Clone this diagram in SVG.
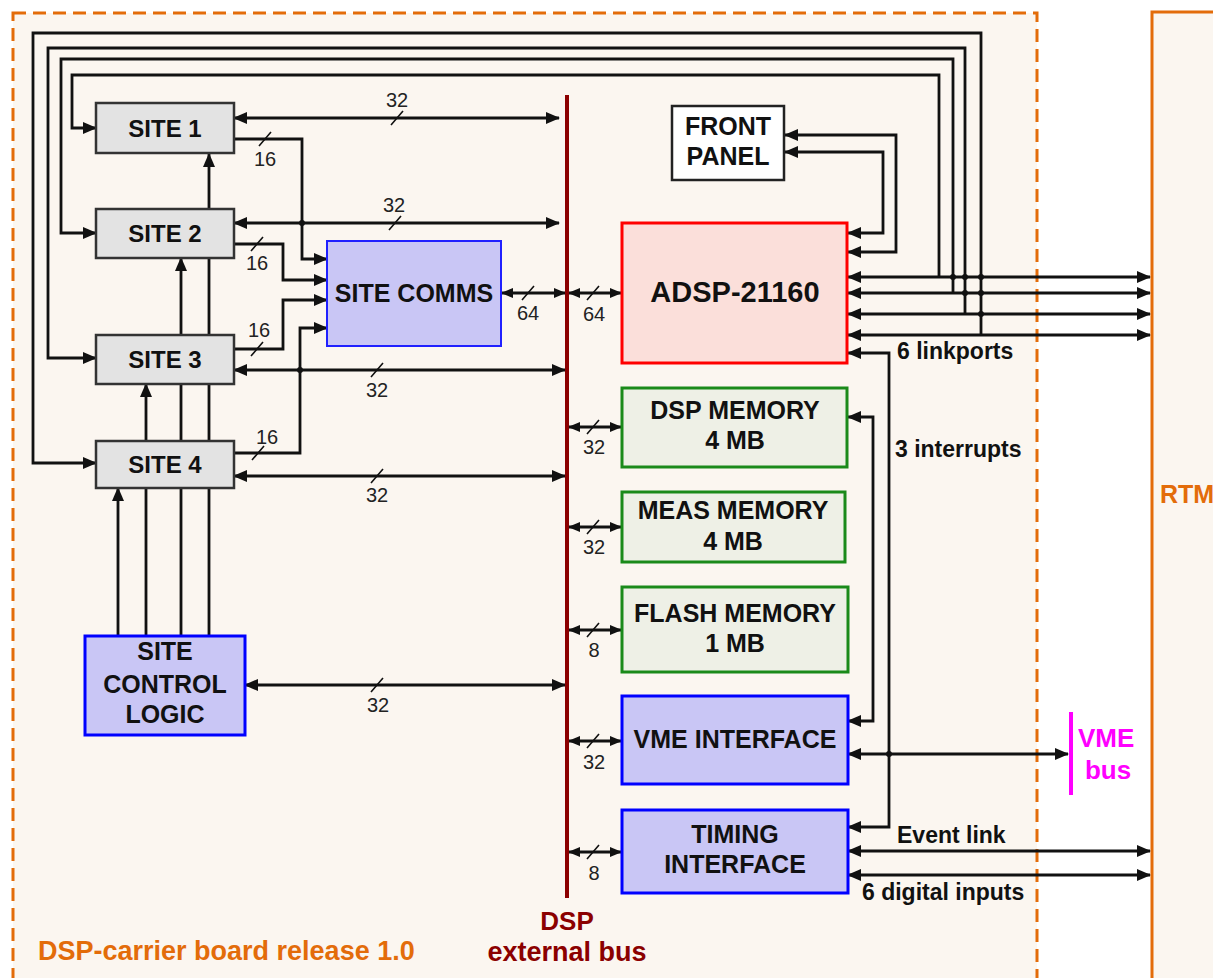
<svg xmlns="http://www.w3.org/2000/svg" width="1213" height="978" viewBox="0 0 1213 978">
<defs>
<marker id="a" viewBox="0 0 14 12" refX="13" refY="6" markerWidth="14" markerHeight="12" markerUnits="userSpaceOnUse" orient="auto-start-reverse"><path d="M0,0 L14,6 L0,12 z" fill="#111"/></marker>
<marker id="s" viewBox="0 0 12 10" refX="11" refY="5" markerWidth="12" markerHeight="10" markerUnits="userSpaceOnUse" orient="auto-start-reverse"><path d="M0,0 L12,5 L0,10 z" fill="#111"/></marker>
<style>
.w{fill:none;stroke:#111;stroke-width:2.8}
.ab{marker-start:url(#a);marker-end:url(#a)}
.ae{marker-end:url(#a)}
.sb{marker-start:url(#s);marker-end:url(#s)}
.sl{fill:none;stroke:#111;stroke-width:1.6}
.dot{fill:#111}
.site{fill:#E3E3E3;stroke:#333;stroke-width:2.5}
.blue{fill:#C9C6F5;stroke:#0000FF;stroke-width:3}
.mem{fill:#EEF0E6;stroke:#1A8A1A;stroke-width:3}
.t{font-family:"Liberation Sans",Arial,sans-serif;font-weight:bold;fill:#111;text-anchor:middle}
.n{font-family:"Liberation Sans",Arial,sans-serif;font-size:20px;fill:#222;text-anchor:middle}
.lb{font-family:"Liberation Sans",Arial,sans-serif;font-weight:bold;font-size:23px;fill:#111}
</style>
</defs>
<rect x="0" y="0" width="1213" height="978" fill="#FFFFFF"/>
<g id="board">
<rect x="13" y="13" width="1024" height="1000" fill="#FBF6F0" stroke="#E36C0A" stroke-width="3" stroke-dasharray="13 7"/>
</g>
<g id="rtm">
<rect x="1152" y="12" width="80" height="1000" fill="#FBF6F0" stroke="#E36C0A" stroke-width="3"/>
<text x="1160" y="503" font-family="Liberation Sans, Arial, sans-serif" font-weight="bold" font-size="25" fill="#E36C0A">RTM</text>
</g>
<g id="connectors">
<path class="w ae" d="M939 277 V75 H72 V128 H96"/>
<path class="w ae" d="M953 293 V59 H61 V233 H96"/>
<path class="w ae" d="M965 314 V48 H48 V358 H96"/>
<path class="w ae" d="M981 335 V33 H33 V463 H96"/>
<path class="w ab" d="M848 277 H1150"/>
<path class="w ab" d="M848 293 H1150"/>
<path class="w ab" d="M848 314 H1150"/>
<path class="w ab" d="M848 335 H1150"/>
<circle class="dot" cx="953" cy="277" r="3"/>
<circle class="dot" cx="965" cy="277" r="3"/>
<circle class="dot" cx="965" cy="293" r="3"/>
<circle class="dot" cx="981" cy="277" r="3"/>
<circle class="dot" cx="981" cy="293" r="3"/>
<circle class="dot" cx="981" cy="314" r="3"/>
<path class="w ab" d="M785 135 H896 V252 H848"/>
<path class="w ab" d="M785 152 H883 V233 H848"/>
<path class="w ab" d="M848 721 H873 V417 H848"/>
<path class="w ab" d="M848 827 H889 V353 H848"/>
<path class="w ab" d="M848 754 H1068"/>
<circle class="dot" cx="889" cy="754" r="3"/>
<path class="w ab" d="M848 851 H1150"/>
<path class="w ab" d="M848 875 H1150"/>
<path class="w ae" d="M209 636 V154"/>
<path class="w ae" d="M181 636 V258"/>
<path class="w ae" d="M146 636 V384"/>
<path class="w ae" d="M118 636 V488"/>
<path class="w ab" d="M234 118 H559"/>
<path class="w ab" d="M234 223 H559"/>
<path class="w ab" d="M234 370 H565"/>
<path class="w ab" d="M234 476 H565"/>
<path class="w ab" d="M245 685 H565"/>
<path class="w ae" d="M234 139 H302 V259 H327"/>
<path class="w ae" d="M234 244 H283 V280 H327"/>
<path class="w ae" d="M234 349 H283 V300 H327"/>
<path class="w ae" d="M234 453 H300 V328 H327"/>
<circle class="dot" cx="302" cy="223" r="3"/>
<circle class="dot" cx="300" cy="370" r="3"/>
<path class="w sb" d="M502 293 H565"/>
<path class="w sb" d="M569 293 H621"/>
<path class="w sb" d="M569 427 H621"/>
<path class="w sb" d="M569 527 H621"/>
<path class="w sb" d="M569 630 H621"/>
<path class="w sb" d="M569 741 H621"/>
<path class="w sb" d="M569 852 H621"/>
<path class="sl" d="M391 125 L403 111 M389 230 L401 216 M259 146 L271 132 M251 251 L263 237 M251 356 L263 342 M371 377 L383 363 M252 460 L264 446 M371 483 L383 469 M371 692 L383 678 M522 300 L534 286 M587 300 L599 286 M587 434 L599 420 M587 534 L599 520 M587 637 L599 623 M587 748 L599 734 M587 859 L599 845"/>
<line x1="567" y1="95" x2="567" y2="898" stroke="#8B0000" stroke-width="4"/>
<line x1="1071" y1="712" x2="1071" y2="795" stroke="#FF00FF" stroke-width="4"/>
</g>
<g id="labels">
<text class="n" x="397" y="107">32</text>
<text class="n" x="394" y="212">32</text>
<text class="n" x="265" y="166">16</text>
<text class="n" x="257" y="270">16</text>
<text class="n" x="259" y="337">16</text>
<text class="n" x="377" y="397">32</text>
<text class="n" x="267" y="444">16</text>
<text class="n" x="377" y="502">32</text>
<text class="n" x="378" y="712">32</text>
<text class="n" x="528" y="320">64</text>
<text class="n" x="594" y="321">64</text>
<text class="n" x="594" y="454">32</text>
<text class="n" x="594" y="554">32</text>
<text class="n" x="594" y="657">8</text>
<text class="n" x="594" y="769">32</text>
<text class="n" x="594" y="880">8</text>
<text class="lb" x="897" y="359">6 linkports</text>
<text class="lb" x="895" y="457">3 interrupts</text>
<text class="lb" x="897" y="843">Event link</text>
<text class="lb" x="862" y="900">6 digital inputs</text>
<text x="1078" y="747" font-family="Liberation Sans, Arial, sans-serif" font-weight="bold" font-size="26" fill="#FF00FF">VME</text>
<text x="1108" y="779" font-family="Liberation Sans, Arial, sans-serif" font-weight="bold" font-size="26" fill="#FF00FF" text-anchor="middle">bus</text>
<text x="567" y="930" font-family="Liberation Sans, Arial, sans-serif" font-weight="bold" font-size="26" fill="#8B0000" text-anchor="middle">DSP</text>
<text x="567" y="961" font-family="Liberation Sans, Arial, sans-serif" font-weight="bold" font-size="27" fill="#8B0000" text-anchor="middle">external bus</text>
<text x="38" y="960" font-family="Liberation Sans, Arial, sans-serif" font-weight="bold" font-size="27" fill="#E36C0A">DSP-carrier board release 1.0</text>
</g>
<g id="site1"><rect class="site" x="96" y="103" width="138" height="50"/><text class="t" x="165" y="137" font-size="24">SITE 1</text></g>
<g id="site2"><rect class="site" x="96" y="209" width="138" height="49"/><text class="t" x="165" y="242" font-size="24">SITE 2</text></g>
<g id="site3"><rect class="site" x="96" y="335" width="138" height="49"/><text class="t" x="165" y="368" font-size="24">SITE 3</text></g>
<g id="site4"><rect class="site" x="96" y="441" width="138" height="47"/><text class="t" x="165" y="473" font-size="24">SITE 4</text></g>
<g id="sitecomms"><rect x="327" y="241" width="174" height="105" fill="#C9C6F5" stroke="#2020FF" stroke-width="2"/><text class="t" x="414" y="302" font-size="25">SITE COMMS</text></g>
<g id="scl"><rect class="blue" x="85" y="636" width="160" height="99"/><text class="t" x="165" y="660" font-size="25">SITE</text><text class="t" x="165" y="693" font-size="25">CONTROL</text><text class="t" x="165" y="723" font-size="25">LOGIC</text></g>
<g id="frontpanel"><rect x="672" y="106" width="112" height="74" fill="#FFFFFF" stroke="#222" stroke-width="2.5"/><text class="t" x="728" y="135" font-size="25">FRONT</text><text class="t" x="728" y="165" font-size="25">PANEL</text></g>
<g id="adsp"><rect x="622" y="223" width="225" height="140" fill="#FBDFDA" stroke="#FF0000" stroke-width="3"/><text class="t" x="735" y="302" font-size="29">ADSP-21160</text></g>
<g id="dspmem"><rect class="mem" x="622" y="388" width="225" height="79"/><text class="t" x="735" y="419" font-size="25">DSP MEMORY</text><text class="t" x="735" y="449" font-size="25">4 MB</text></g>
<g id="measmem"><rect class="mem" x="622" y="492" width="223" height="70"/><text class="t" x="733" y="519" font-size="25">MEAS MEMORY</text><text class="t" x="733" y="550" font-size="25">4 MB</text></g>
<g id="flashmem"><rect class="mem" x="622" y="587" width="226" height="85"/><text class="t" x="735" y="622" font-size="25">FLASH MEMORY</text><text class="t" x="735" y="652" font-size="25">1 MB</text></g>
<g id="vme"><rect class="blue" x="622" y="696" width="226" height="88"/><text class="t" x="735" y="748" font-size="25">VME INTERFACE</text></g>
<g id="timing"><rect class="blue" x="622" y="810" width="226" height="83"/><text class="t" x="735" y="843" font-size="25">TIMING</text><text class="t" x="735" y="873" font-size="25">INTERFACE</text></g>
</svg>
